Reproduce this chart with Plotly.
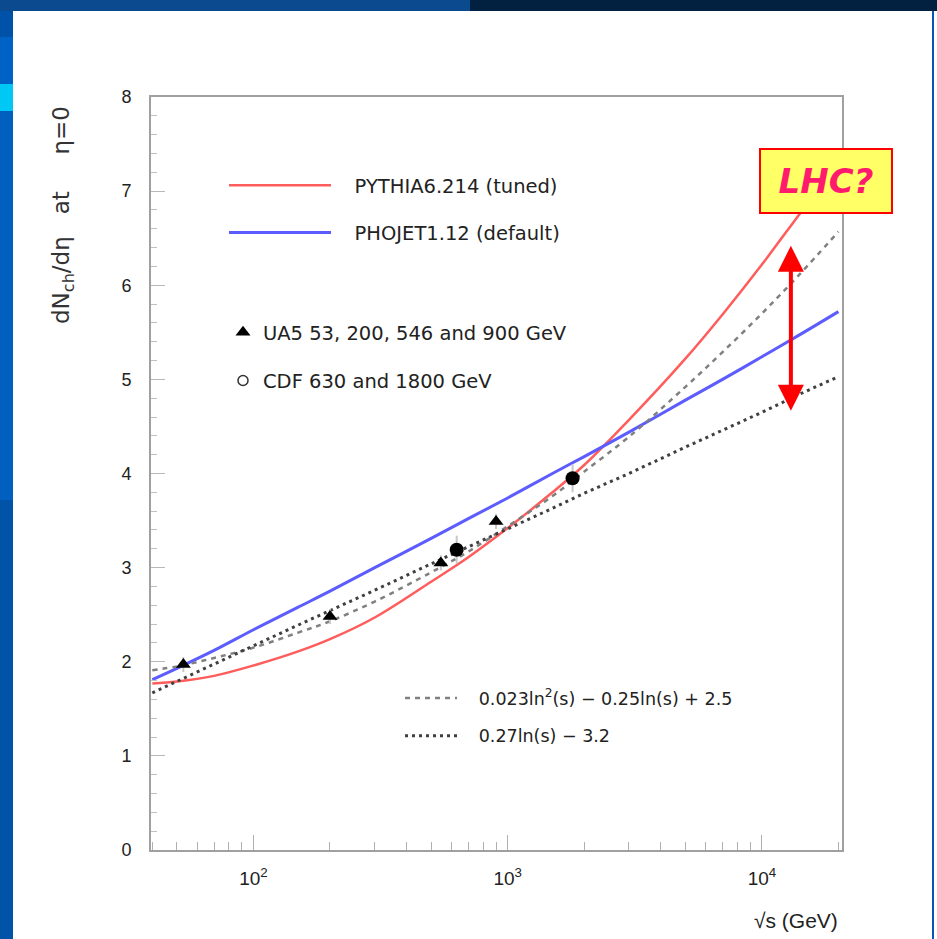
import math
import plotly.graph_objects as go

# ---------------- data ----------------
sqrt_s = [40, 50, 70, 100, 150, 200, 300, 500, 700, 1000, 1500, 2000, 3000,
          5000, 7000, 10000, 14000, 20000]
pythia = [1.77, 1.79, 1.85, 1.96, 2.11, 2.24, 2.47, 2.85, 3.11, 3.42, 3.80,
          4.09, 4.57, 5.22, 5.69, 6.22, 6.75, 7.31]
phojet = [1.81, 1.93, 2.12, 2.34, 2.58, 2.75, 3.00, 3.31, 3.52, 3.74, 4.00,
          4.18, 4.44, 4.78, 5.00, 5.24, 5.47, 5.72]
fit_quad = [1.91, 1.95, 2.04, 2.15, 2.31, 2.43, 2.64, 2.95, 3.17, 3.44, 3.76,
            4.02, 4.39, 4.92, 5.29, 5.70, 6.11, 6.57]
fit_lin = [1.67, 1.79, 1.97, 2.17, 2.39, 2.54, 2.76, 3.04, 3.22, 3.41, 3.63,
           3.79, 4.00, 4.28, 4.46, 4.65, 4.84, 5.03]

ua5_e = [53, 200, 546, 900]
ua5_y = [1.97, 2.48, 3.05, 3.49]
ua5_err = [0.08, 0.08, 0.08, 0.08]
cdf_e = [630, 1800]
cdf_y = [3.19, 3.95]
cdf_err = [0.15, 0.15]

lhc_e = 13000
lhc_range = [4.65, 6.42]

x_ticks = [100, 1000, 10000]
x_ticktext = ["10<sup>2</sup>", "10<sup>3</sup>", "10<sup>4</sup>"]
y_ticks = [0, 1, 2, 3, 4, 5, 6, 7, 8]

FONT = "Liberation Sans"
LFONT = "DejaVu Sans"
NB = "\u00a0"
W, H = 937, 939
L, R, T, B = 151, 95, 97, 89
PW, PH = W - L - R, H - T - B


def px(xp):
    return (xp - L) / PW


def py(yp):
    return (H - B - yp) / PH


fig = go.Figure()

fig.add_trace(go.Scatter(x=sqrt_s, y=pythia, mode="lines", line=dict(color="#ff5c5c", width=2.5, shape="spline"),
                         name=NB * 3 + "PYTHIA6.214 (tuned)", legend="legend", legendgroup="a"))
fig.add_trace(go.Scatter(x=sqrt_s, y=phojet, mode="lines", line=dict(color="#5c5cff", width=3, shape="spline"),
                         name=NB * 3 + "PHOJET1.12 (default)", legend="legend", legendgroup="b"))
fig.add_trace(go.Scatter(x=sqrt_s, y=fit_quad, mode="lines",
                         line=dict(color="#808080", width=2.5, dash="5px,5px", shape="spline"),
                         name=NB * 3 + "0.023ln<sup>2</sup>(s) − 0.25ln(s) + 2.5", legend="legend3",
                         legendgroup="e"))
fig.add_trace(go.Scatter(x=sqrt_s, y=fit_lin, mode="lines",
                         line=dict(color="#404040", width=3, dash="3px,4px"),
                         name=NB * 3 + "0.27ln(s) − 3.2", legend="legend3", legendgroup="f"))
fig.add_trace(go.Scatter(x=ua5_e, y=ua5_y, mode="markers",
                         marker=dict(symbol="triangle-up", color="black", size=13),
                         error_y=dict(type="data", array=ua5_err, color="#c8c8c8", thickness=2, width=0),
                         name="UA5 53, 200, 546 and 900 GeV", legend="legend2", legendgroup="c"))
fig.add_trace(go.Scatter(x=cdf_e, y=cdf_y, mode="markers",
                         marker=dict(symbol="circle", color="black", size=14),
                         error_y=dict(type="data", array=cdf_err, color="#c8c8c8", thickness=2, width=0),
                         showlegend=False))
fig.add_trace(go.Scatter(x=[None], y=[None], mode="markers",
                         marker=dict(symbol="circle-open", color="#333", size=10, line=dict(width=1.5)),
                         name="CDF 630 and 1800 GeV", legend="legend2", legendgroup="d"))

leg_common = dict(bgcolor="rgba(0,0,0,0)", borderwidth=0, traceorder="grouped",
                  xanchor="left", yanchor="top")

shapes = [
    dict(type="rect", xref="paper", yref="paper", x0=px(0), x1=px(470), y0=py(0), y1=py(11),
         fillcolor="#0b4a8f", line_width=0, layer="below"),
    dict(type="rect", xref="paper", yref="paper", x0=px(470), x1=px(W), y0=py(0), y1=py(11),
         fillcolor="#02203f", line_width=0, layer="below"),
    dict(type="rect", xref="paper", yref="paper", x0=px(0), x1=px(13), y0=py(11), y1=py(37),
         fillcolor="#0051a8", line_width=0, layer="below"),
    dict(type="rect", xref="paper", yref="paper", x0=px(0), x1=px(13), y0=py(37), y1=py(84),
         fillcolor="#0062c4", line_width=0, layer="below"),
    dict(type="rect", xref="paper", yref="paper", x0=px(0), x1=px(13), y0=py(84), y1=py(111),
         fillcolor="#00c8f5", line_width=0, layer="below"),
    dict(type="rect", xref="paper", yref="paper", x0=px(0), x1=px(13), y0=py(111), y1=py(500),
         fillcolor="#005fbf", line_width=0, layer="below"),
    dict(type="rect", xref="paper", yref="paper", x0=px(0), x1=px(13), y0=py(500), y1=py(H),
         fillcolor="#0053a6", line_width=0, layer="below"),
    dict(type="rect", xref="paper", yref="paper", x0=px(932), x1=px(934), y0=py(11), y1=py(H),
         fillcolor="#0a55b8", line_width=0, layer="below"),
]

lhc_x = math.log10(lhc_e)
annotations = [
    dict(text="dN<sub>ch</sub>/dη" + NB * 3 + "at" + NB * 5 + "η=0", xref="paper", yref="paper",
         x=px(63), y=py(215), xanchor="center", yanchor="middle",
         textangle=-90, showarrow=False, font=dict(family=LFONT, size=23, color="#333")),
    dict(text="√s (GeV)", xref="paper", yref="paper", x=px(840), y=py(921), xanchor="right", yanchor="middle",
         showarrow=False, font=dict(family=FONT, size=21, color="#222")),
    dict(x=lhc_x, y=lhc_range[1], ax=lhc_x, ay=lhc_range[0], xref="x", yref="y", axref="x", ayref="y",
         showarrow=True, arrowhead=2, arrowside="end+start", arrowsize=1.3, arrowwidth=4,
         arrowcolor="#ff0000", text=""),
    dict(text="<b><i>LHC?</i></b>", xref="paper", yref="paper", x=px(826), y=py(181),
         xanchor="center", yanchor="middle",
         showarrow=False, bgcolor="#ffff66", bordercolor="#ff0000", borderwidth=2,
         width=128, height=60, font=dict(family="DejaVu Sans", size=34, color="#ff1a6e")),
]

fig.update_layout(
    width=W, height=H, margin=dict(l=L, r=R, t=T, b=B),
    paper_bgcolor="white", plot_bgcolor="white",
    shapes=shapes, annotations=annotations,
    legend=dict(x=px(224), y=py(166), tracegroupgap=19, itemwidth=102,
                font=dict(family=LFONT, size=19.5, color="#222"), **leg_common),
    legend2=dict(x=px(223), y=py(313), tracegroupgap=20, itemwidth=30,
                 font=dict(family=LFONT, size=19.5, color="#222"), **leg_common),
    legend3=dict(x=px(400), y=py(680), tracegroupgap=12, itemwidth=52,
                 font=dict(family=LFONT, size=17.5, color="#222"), **leg_common),
    xaxis=dict(type="log", range=[1.597, 4.315], tickvals=x_ticks, ticktext=x_ticktext,
               ticks="inside", ticklen=15, tickcolor="#b0b0b0", tickwidth=1,
               minor=dict(ticks="inside", ticklen=8, tickcolor="#b0b0b0", dtick="D1", showgrid=False),
               showline=True, linecolor="#a0a0a0", linewidth=2, mirror=True, showgrid=False,
               zeroline=False, tickfont=dict(family=FONT, size=19, color="#222"), ticklabelstandoff=10),
    yaxis=dict(range=[0, 8], tickvals=y_ticks, ticks="inside", ticklen=14, tickcolor="#b8b8b8", tickwidth=1,
               minor=dict(ticks="inside", ticklen=6, tickcolor="#c0c0c0", dtick=0.2, showgrid=False),
               showline=True, linecolor="#a0a0a0", linewidth=2, mirror=True, showgrid=False,
               zeroline=False, tickfont=dict(family=FONT, size=18, color="#222"), ticklabelstandoff=14),
)

fig.write_html("out.html")
